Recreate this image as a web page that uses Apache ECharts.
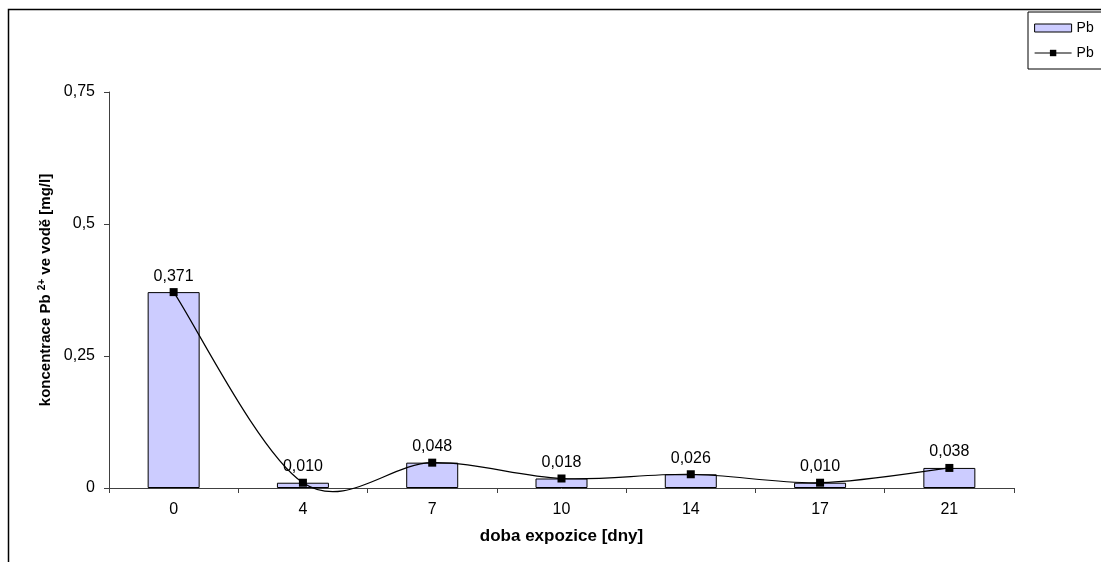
<!DOCTYPE html>
<html>
<head>
<meta charset="utf-8">
<script src="https://cdn.jsdelivr.net/npm/echarts@6/dist/echarts.min.js"></script>
<style>
  html, body { margin: 0; padding: 0; background: #fff; }
  #chart { width: 1101px; height: 562px; }
</style>
</head>
<body>
<div id="chart"></div>
<script>
// Exposure time in days and dissolved Pb2+ concentration in water
const days = ['0', '4', '7', '10', '14', '17', '21'];
const pbBars = [0.371, 0.010, 0.048, 0.018, 0.026, 0.010, 0.038];
const pbLine = [0.371, 0.010, 0.048, 0.018, 0.026, 0.010, 0.038];
const yTicks = [0, 0.25, 0.5, 0.75];

const FONT = '"Liberation Sans", Arial, sans-serif';
const comma = v => String(v).replace('.', ',');

// Catmull-Rom style smoothing (tension 1/6) between consecutive points,
// drawn as one bezier segment per data item, in pixel space from the axes.
function renderSmoothSegment(params, api) {
  const i = params.dataIndex;
  const n = pbLine.length;
  if (i >= n - 1) return null;
  const pt = k => {
    const j = Math.max(0, Math.min(n - 1, k));
    return api.coord([j, pbLine[j]]);
  };
  const p0 = pt(i - 1), p1 = pt(i), p2 = pt(i + 1), p3 = pt(i + 2);
  return {
    type: 'bezierCurve',
    shape: {
      x1: p1[0], y1: p1[1],
      x2: p2[0], y2: p2[1],
      cpx1: p1[0] + (p2[0] - p0[0]) / 6,
      cpy1: p1[1] + (p2[1] - p0[1]) / 6,
      cpx2: p2[0] - (p3[0] - p1[0]) / 6,
      cpy2: p2[1] - (p3[1] - p1[1]) / 6
    },
    style: { stroke: '#000', lineWidth: 1.2, fill: null },
    silent: true
  };
}

const chart = echarts.init(document.getElementById('chart'), null, { renderer: 'canvas' });

chart.setOption({
  backgroundColor: '#ffffff',
  animation: false,
  textStyle: { fontFamily: FONT },
  graphic: [{
    type: 'rect',
    shape: { x: 8.5, y: 9.5, width: 1200, height: 700 },
    style: { fill: 'none', stroke: '#000', lineWidth: 1.5 },
    silent: true
  }],
  legend: {
    left: 1028,
    top: 12,
    orient: 'vertical',
    padding: [8, 24, 8, 6],
    itemGap: 9,
    itemWidth: 37,
    itemHeight: 8,
    borderColor: '#000',
    borderWidth: 1,
    textStyle: { fontFamily: FONT, fontSize: 14, color: '#000', lineHeight: 16 },
    formatter: () => 'Pb',
    data: [
      { name: 'Pb-bar', icon: 'rect', itemStyle: { color: '#CCCCFF', borderColor: '#000', borderWidth: 1 } },
      { name: 'Pb-line', lineStyle: { color: '#000', width: 1.2, opacity: 1 } }
    ]
  },
  grid: { left: 109, right: 87, top: 92, bottom: 74 },
  xAxis: {
    type: 'category',
    data: days,
    boundaryGap: true,
    name: 'doba expozice [dny]',
    nameLocation: 'middle',
    nameGap: 40,
    nameTextStyle: { fontFamily: FONT, fontSize: 17, fontWeight: 'bold', color: '#000' },
    axisLine: { lineStyle: { color: '#404040', width: 1 } },
    axisTick: { show: true, alignWithLabel: false, length: 5, lineStyle: { color: '#404040' } },
    axisLabel: { fontFamily: FONT, fontSize: 16, color: '#000', margin: 14 },
    splitLine: { show: false }
  },
  yAxis: {
    type: 'value',
    min: yTicks[0],
    max: yTicks[yTicks.length - 1],
    interval: 0.25,
    name: 'koncentrace Pb {sup|2+} ve vodě [mg/l]',
    nameLocation: 'middle',
    nameRotate: 90,
    nameGap: 54,
    nameTextStyle: {
      fontFamily: FONT, fontSize: 15, fontWeight: 'bold', color: '#000',
      rich: {
        sup: { fontFamily: FONT, fontSize: 10, fontWeight: 'bold', color: '#000', verticalAlign: 'top', padding: [0, 0, 7, 0] }
      }
    },
    axisLine: { show: true, lineStyle: { color: '#404040', width: 1 } },
    axisTick: { show: true, length: 5, lineStyle: { color: '#404040' } },
    axisLabel: { fontFamily: FONT, fontSize: 16, color: '#000', margin: 14, formatter: v => comma(v) },
    splitLine: { show: false }
  },
  series: [
    {
      name: 'Pb-bar',
      type: 'bar',
      data: pbBars,
      barWidth: 52,
      itemStyle: { color: '#CCCCFF', borderColor: '#000', borderWidth: 1 },
      z: 2
    },
    {
      name: 'Pb-curve',
      type: 'custom',
      data: pbLine,
      renderItem: renderSmoothSegment,
      clip: false,
      silent: true,
      z: 3
    },
    {
      name: 'Pb-line',
      type: 'line',
      data: pbLine,
      symbol: 'rect',
      symbolSize: 8,
      lineStyle: { color: '#000', width: 1.2, opacity: 0 },
      itemStyle: { color: '#000' },
      label: {
        show: true,
        position: 'top',
        distance: 4,
        fontFamily: FONT,
        fontSize: 16,
        color: '#000',
        formatter: p => p.value.toFixed(3).replace('.', ',')
      },
      z: 4
    }
  ]
});
</script>
</body>
</html>
